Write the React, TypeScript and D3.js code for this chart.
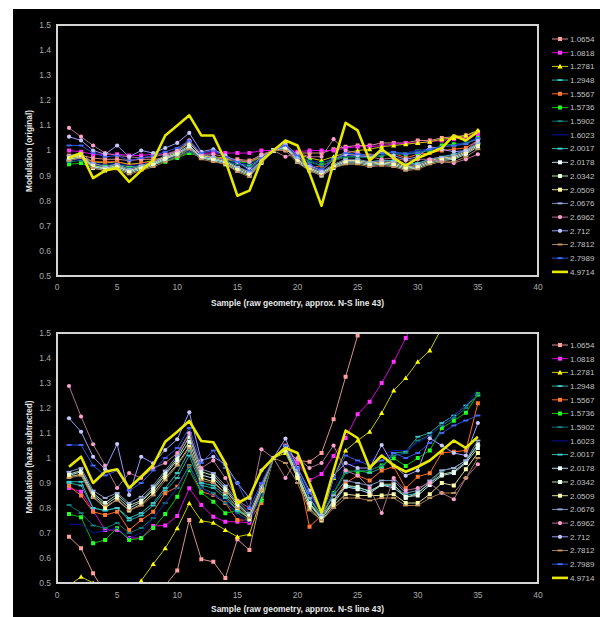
import React from 'react';
import * as d3 from 'd3';

const samples = [1,2,3,4,5,6,7,8,9,10,11,12,13,14,15,16,17,18,19,20,21,22,23,24,25,26,27,28,29,30,31,32,33,34,35];
const seriesLabels = ['1.0654','1.0818','1.2781','1.2948','1.5567','1.5736','1.5902','1.6023','2.0017','2.0178','2.0342','2.0509','2.0676','2.6962','2.712','2.7812','2.7989','4.9714'];
const xTicks = [0,5,10,15,20,25,30,35,40];
const yTicks = [0.5,0.6,0.7,0.8,0.9,1.0,1.1,1.2,1.3,1.4,1.5];
const yTickLabels = ['0.5','0.6','0.7','0.8','0.9','1','1.1','1.2','1.3','1.4','1.5'];

// ---- Top chart: Modulation (original)
const t_1_0654 = [0.975,0.98,0.97,0.965,0.965,0.96,0.965,0.965,0.97,0.98,0.99,0.975,0.97,0.965,0.965,0.96,0.98,1.0,1.0,0.99,0.99,0.99,1.005,1.015,1.02,1.02,1.03,1.03,1.03,1.04,1.04,1.05,1.055,1.06,1.075];
const t_1_0818 = [1.0,0.995,0.985,0.985,0.985,0.98,0.98,0.985,0.985,0.995,1.005,0.99,0.99,0.99,0.99,0.99,1.0,1.0,1.005,0.995,1.0,1.0,1.0,1.01,1.015,1.015,1.02,1.025,1.03,1.03,1.035,1.04,1.045,1.055,1.065];
const t_1_2781 = [0.965,0.975,0.955,0.95,0.955,0.945,0.95,0.96,0.97,0.985,1.0,0.98,0.975,0.97,0.96,0.955,0.975,1.0,1.005,0.985,0.97,0.96,0.975,0.99,1.0,1.005,1.015,1.02,1.025,1.03,1.035,1.045,1.05,1.06,1.08];
const t_1_2948 = [0.96,0.97,0.945,0.94,0.945,0.935,0.94,0.95,0.965,0.98,1.0,0.975,0.97,0.96,0.95,0.94,0.97,1.0,1.01,0.98,0.955,0.94,0.96,0.975,0.975,0.975,0.985,0.99,0.99,1.0,1.005,1.015,1.02,1.03,1.045];
const t_1_5567 = [0.98,0.975,0.955,0.955,0.955,0.94,0.95,0.955,0.97,0.975,0.995,0.97,0.97,0.965,0.955,0.955,0.97,1.0,1.01,0.98,0.93,0.94,0.96,0.98,0.985,0.98,0.99,0.99,0.97,0.985,0.99,1.0,1.005,1.01,1.04];
const t_1_5736 = [0.945,0.95,0.93,0.935,0.94,0.93,0.935,0.945,0.955,0.97,0.99,0.975,0.97,0.96,0.955,0.95,0.97,1.0,1.01,0.985,0.96,0.95,0.965,0.975,0.975,0.975,0.98,0.99,0.985,0.99,1.0,1.02,1.025,1.03,1.05];
const t_1_5902 = [0.955,0.96,0.94,0.935,0.94,0.93,0.935,0.945,0.96,0.975,0.995,0.97,0.965,0.955,0.945,0.935,0.965,1.0,1.01,0.98,0.955,0.94,0.96,0.975,0.975,0.97,0.98,0.985,0.985,0.995,1.0,1.015,1.02,1.03,1.045];
const t_1_6023 = [0.96,0.965,0.95,0.945,0.95,0.94,0.945,0.955,0.965,0.98,1.0,0.975,0.97,0.96,0.95,0.945,0.97,1.0,1.01,0.985,0.96,0.95,0.97,0.98,0.98,0.975,0.985,0.99,0.99,1.0,1.005,1.015,1.02,1.035,1.05];
const t_2_0017 = [0.965,0.97,0.935,0.93,0.935,0.92,0.93,0.945,0.965,0.985,1.01,0.97,0.965,0.955,0.935,0.915,0.96,1.0,1.015,0.965,0.93,0.91,0.94,0.96,0.96,0.955,0.96,0.96,0.945,0.95,0.965,0.975,0.985,1.0,1.025];
const t_2_0178 = [0.97,0.98,0.935,0.925,0.935,0.915,0.93,0.945,0.97,0.99,1.02,0.975,0.965,0.95,0.925,0.905,0.955,1.0,1.015,0.96,0.925,0.905,0.935,0.955,0.955,0.945,0.95,0.945,0.93,0.935,0.955,0.965,0.97,0.99,1.02];
const t_2_0342 = [0.965,0.975,0.93,0.92,0.93,0.91,0.925,0.94,0.965,0.985,1.015,0.97,0.96,0.945,0.92,0.9,0.95,1.0,1.01,0.955,0.92,0.9,0.93,0.95,0.95,0.94,0.945,0.94,0.925,0.93,0.95,0.96,0.965,0.985,1.015];
const t_2_0509 = [0.975,0.985,0.94,0.93,0.94,0.92,0.935,0.95,0.975,0.995,1.03,0.98,0.97,0.955,0.93,0.91,0.96,1.0,1.02,0.965,0.93,0.91,0.94,0.96,0.96,0.95,0.955,0.95,0.935,0.94,0.96,0.97,0.975,0.995,1.025];
const t_2_0676 = [0.98,0.99,0.95,0.935,0.945,0.925,0.94,0.955,0.98,1.0,1.035,0.985,0.975,0.96,0.935,0.915,0.96,1.0,1.02,0.97,0.935,0.915,0.945,0.965,0.965,0.955,0.96,0.955,0.94,0.945,0.965,0.975,0.98,1.0,1.03];
const t_2_6962 = [1.09,1.055,1.02,0.99,0.98,0.975,0.97,0.975,0.985,1.0,1.04,0.985,0.985,0.975,0.96,0.955,0.985,1.0,0.975,0.99,0.975,0.975,1.045,1.0,0.99,0.975,0.965,0.97,0.96,0.965,0.965,0.955,0.95,0.965,0.985];
const t_2_712 = [1.055,1.04,1.0,0.985,1.02,0.975,1.0,0.99,1.01,1.03,1.07,0.995,1.005,0.98,0.955,0.925,0.975,1.0,1.025,0.98,0.94,0.92,0.965,0.985,0.98,0.975,0.995,0.98,0.965,0.975,1.015,1.005,0.995,1.0,1.04];
const t_2_7812 = [0.96,0.97,0.93,0.92,0.925,0.905,0.92,0.935,0.955,0.975,1.005,0.965,0.955,0.945,0.915,0.895,0.95,1.0,1.0,0.95,0.92,0.9,0.93,0.945,0.945,0.935,0.94,0.935,0.92,0.925,0.945,0.955,0.955,0.975,1.005];
const t_2_7989 = [1.02,1.02,0.99,0.975,0.98,0.96,0.97,0.98,0.995,1.01,1.04,0.99,1.0,0.975,0.955,0.92,0.97,1.0,1.02,0.98,0.945,0.925,0.965,0.99,0.985,0.98,0.99,0.995,0.985,0.99,1.005,1.015,1.02,1.025,1.05];
const t_4_9714 = [0.97,0.99,0.89,0.92,0.93,0.875,0.92,0.96,1.06,1.10,1.14,1.06,1.06,0.96,0.82,0.84,0.96,1.0,1.04,1.02,0.91,0.78,0.95,1.11,1.08,0.96,1.005,0.97,0.94,0.97,0.99,1.01,1.06,1.04,1.075];

// ---- Bottom chart: Modulation (haze subtracted)
const b_1_0654 = [0.685,0.639,0.539,0.46,0.42,0.40,0.43,0.47,0.49,0.55,0.752,0.595,0.585,0.52,0.675,0.632,0.85,1.0,1.04,0.99,0.985,1.02,1.155,1.325,1.49,1.7,1.9,2.1,2.3,2.5,2.7,2.9,3.1,3.3,3.5];
const b_1_0818 = [0.88,0.865,0.79,0.712,0.712,0.68,0.68,0.728,0.73,0.768,0.879,0.812,0.765,0.745,0.745,0.741,0.86,1.0,1.04,0.98,0.912,0.936,1.008,1.08,1.175,1.225,1.30,1.385,1.48,1.58,1.68,1.78,1.88,1.98,2.08];
const b_1_2781 = [0.49,0.525,0.50,0.47,0.44,0.47,0.509,0.576,0.639,0.719,0.819,0.749,0.741,0.712,0.685,0.695,0.84,1.0,1.02,0.92,0.82,0.76,0.92,1.03,1.07,1.105,1.18,1.27,1.32,1.385,1.43,1.52,1.6,1.68,1.76];
const b_1_2948 = [0.90,0.89,0.80,0.79,0.80,0.75,0.77,0.81,0.87,0.92,1.01,0.89,0.88,0.84,0.79,0.76,0.86,1.0,1.04,0.94,0.84,0.77,0.86,0.94,0.95,0.94,0.96,1.02,1.025,1.085,1.10,1.14,1.17,1.21,1.25];
const b_1_5567 = [0.888,0.85,0.785,0.772,0.785,0.712,0.752,0.785,0.859,0.885,0.968,0.865,0.852,0.82,0.752,0.752,0.82,1.0,1.05,0.95,0.725,0.77,0.83,0.90,0.93,0.91,0.95,0.965,0.879,0.925,0.939,1.021,1.025,1.03,1.219];
const b_1_5736 = [0.776,0.763,0.659,0.672,0.719,0.672,0.679,0.72,0.776,0.845,0.952,0.861,0.825,0.779,0.79,0.772,0.83,1.0,1.03,0.92,0.83,0.77,0.86,0.95,0.945,0.95,0.97,0.999,0.968,1.0,1.03,1.12,1.149,1.181,1.255];
const b_1_5902 = [0.812,0.78,0.73,0.72,0.74,0.70,0.72,0.76,0.82,0.88,0.97,0.88,0.86,0.82,0.78,0.75,0.85,1.0,1.03,0.93,0.83,0.77,0.86,0.94,0.95,0.95,0.97,1.01,1.02,1.07,1.09,1.13,1.16,1.20,1.255];
const b_1_6023 = [0.735,0.735,0.70,0.71,0.72,0.68,0.70,0.76,0.82,0.88,0.96,0.88,0.85,0.83,0.77,0.74,0.85,1.0,1.04,0.95,0.85,0.78,0.88,0.97,0.98,0.99,1.01,1.03,1.03,1.06,1.09,1.13,1.17,1.21,1.275];
const b_2_0017 = [0.905,0.905,0.80,0.79,0.80,0.76,0.78,0.82,0.88,0.94,1.03,0.90,0.89,0.85,0.79,0.76,0.87,1.0,1.04,0.93,0.82,0.765,0.83,0.89,0.88,0.87,0.89,0.89,0.85,0.86,0.90,0.95,0.96,0.99,1.05];
const b_2_0178 = [0.93,0.945,0.852,0.812,0.845,0.799,0.825,0.872,0.932,0.992,1.065,0.932,0.919,0.872,0.812,0.765,0.88,1.0,1.04,0.93,0.82,0.759,0.819,0.885,0.875,0.859,0.892,0.88,0.845,0.85,0.892,0.93,0.94,0.98,1.04];
const b_2_0342 = [0.935,0.95,0.86,0.82,0.855,0.81,0.83,0.88,0.94,1.0,1.085,0.945,0.93,0.88,0.82,0.77,0.88,1.0,1.04,0.935,0.815,0.755,0.83,0.89,0.885,0.865,0.895,0.895,0.84,0.86,0.90,0.935,0.945,0.985,1.055];
const b_2_0509 = [0.925,0.935,0.845,0.80,0.835,0.79,0.815,0.86,0.92,0.975,1.045,0.92,0.905,0.86,0.80,0.755,0.87,1.0,1.03,0.92,0.80,0.75,0.81,0.855,0.85,0.85,0.85,0.855,0.82,0.82,0.855,0.90,0.89,0.955,1.02];
const b_2_0676 = [0.945,0.96,0.87,0.84,0.86,0.82,0.845,0.89,0.95,1.01,1.10,0.955,0.94,0.89,0.83,0.78,0.89,1.0,1.05,0.95,0.84,0.77,0.85,0.91,0.90,0.89,0.91,0.91,0.86,0.87,0.91,0.95,0.96,0.99,1.07];
const b_2_6962 = [1.288,1.166,1.055,0.97,0.88,0.94,0.92,0.96,0.98,1.02,1.10,0.96,0.99,0.92,0.83,0.80,1.035,1.0,0.92,1.0,0.96,0.98,1.05,0.95,0.93,0.88,0.78,0.92,0.87,0.88,0.90,0.86,0.835,0.92,0.975];
const b_2_712 = [1.159,1.105,1.005,0.955,1.056,0.852,1.005,0.979,1.032,1.075,1.183,0.99,1.005,0.975,0.90,0.84,0.95,1.0,1.078,0.96,0.87,0.78,0.93,0.98,0.96,0.96,1.052,0.97,0.929,0.95,1.079,1.05,1.02,1.01,1.14];
const b_2_7812 = [0.92,0.93,0.84,0.81,0.83,0.79,0.81,0.85,0.91,0.97,1.04,0.91,0.90,0.86,0.80,0.76,0.87,1.0,0.98,0.90,0.79,0.75,0.80,0.84,0.84,0.83,0.84,0.84,0.81,0.81,0.84,0.86,0.86,0.92,1.0];
const b_2_7989 = [1.052,1.052,0.97,0.93,0.95,0.87,0.90,0.95,1.0,1.04,1.12,0.98,1.03,0.96,0.90,0.80,0.90,1.0,1.05,0.96,0.86,0.78,0.92,1.01,0.99,0.97,0.99,1.02,1.0,1.02,1.06,1.10,1.13,1.15,1.17];
const b_4_9714 = [0.965,1.005,0.90,0.945,0.955,0.88,0.925,0.972,1.065,1.105,1.148,1.068,1.063,0.979,0.819,0.845,0.95,1.0,1.04,1.02,0.90,0.78,0.95,1.11,1.08,0.96,1.01,0.97,0.945,0.965,0.99,1.03,1.07,1.04,1.085];

const topValues = [t_1_0654,t_1_0818,t_1_2781,t_1_2948,t_1_5567,t_1_5736,t_1_5902,t_1_6023,t_2_0017,t_2_0178,t_2_0342,t_2_0509,t_2_0676,t_2_6962,t_2_712,t_2_7812,t_2_7989,t_4_9714];
const bottomValues = [b_1_0654,b_1_0818,b_1_2781,b_1_2948,b_1_5567,b_1_5736,b_1_5902,b_1_6023,b_2_0017,b_2_0178,b_2_0342,b_2_0509,b_2_0676,b_2_6962,b_2_712,b_2_7812,b_2_7989,b_4_9714];

// styles (per series)
const lineColors = ['#d9908c','#dd00dd','#c8c800','#2f9f9f','#ff6a1a','#00b800','#0a6e6e','#1010a0','#33b5b5','#b8dcec','#b4dcb4','#d8d890','#7f8fc0','#b07090','#9a9aff','#a07850','#2a4fd8','#e8e800'];
const markerColors = ['#ff9f9f','#ff33ff','#ffff00','#40c8c8','#ff7a33','#22ff22','#1a8080','#2020b0','#40d0d0','#f0ffff','#e4ffe4','#ffffa8','#a0b0e0','#ff9fcf','#c8c8ff','#c89a6a','#4a6aff','#e8e800'];
const markerShapes = ['square','square','triangle','dash','square','square','dash','none','dash','square','square','square','dash','circle','circle','dash','dash','none'];

const FONT = '"Liberation Sans", Arial, sans-serif';
const PLOT_L = 57, PLOT_R = 538;

function Marker({ shape, x, y, color }: { shape: string; x: number; y: number; color: string }) {
  if (shape === 'square') return <rect x={x - 2} y={y - 2} width={4} height={4} fill={color} />;
  if (shape === 'triangle') return <path d={`M${x},${y - 2.6}L${x + 2.6},${y + 2}L${x - 2.6},${y + 2}Z`} fill={color} />;
  if (shape === 'circle') return <circle cx={x} cy={y} r={2.1} fill={color} />;
  if (shape === 'dash') return <rect x={x - 2.5} y={y - 0.9} width={5} height={1.8} fill={color} />;
  return null;
}

function Panel({ values, plotTop, plotBottom, yTitle, yTitleLen, yTitleCenter, tickBaseline, titleBaseline, legendTop, id }: any) {
  const x = d3.scaleLinear().domain([0, 40]).range([PLOT_L, PLOT_R]);
  const y = d3.scaleLinear().domain([0.5, 1.5]).range([plotBottom, plotTop]);
  const line = d3.line<number>().x((_, i) => x(samples[i])).y((v) => y(v));
  return (
    <g>
      <defs>
        <clipPath id={id}>
          <rect x={PLOT_L} y={plotTop} width={PLOT_R - PLOT_L} height={plotBottom - plotTop} />
        </clipPath>
      </defs>
      {/* y ticks */}
      {yTicks.map((t, i) => (
        <text key={'yt' + i} x={51} y={y(t)} dy="0.35em" textAnchor="end" fontSize={8.5} fill="#a8a8a8" fontFamily={FONT}>
          {yTickLabels[i]}
        </text>
      ))}
      {xTicks.map((t) => (
        <text key={'xt' + t} x={x(t)} y={tickBaseline} textAnchor="middle" fontSize={8.5} fill="#a8a8a8" fontFamily={FONT}>
          {t}
        </text>
      ))}
      <text x={(PLOT_L + PLOT_R) / 2 - 0} y={titleBaseline} textAnchor="middle" fontSize={9} fontWeight="bold" fill="#e8e8e8" fontFamily={FONT} textLength={173} lengthAdjust="spacingAndGlyphs">
        Sample (raw geometry, approx. N-S line 43)
      </text>
      <text transform={`translate(32,${yTitleCenter}) rotate(-90)`} textAnchor="middle" fontSize={9} fontWeight="bold" fill="#e8e8e8" fontFamily={FONT} textLength={yTitleLen} lengthAdjust="spacingAndGlyphs">
        {yTitle}
      </text>
      <g clipPath={`url(#${id})`}>
        {values.map((vals: number[], si: number) => (
          <g key={'s' + si}>
            <path d={line(vals) || ''} fill="none" stroke={lineColors[si]} strokeWidth={si === 17 ? 2.6 : 1} strokeLinejoin="round" />
            {vals.map((v, i) => (
              <Marker key={i} shape={markerShapes[si]} x={x(samples[i])} y={y(v)} color={markerColors[si]} />
            ))}
          </g>
        ))}
      </g>
      <rect x={PLOT_L} y={plotTop} width={PLOT_R - PLOT_L} height={plotBottom - plotTop} fill="none" stroke="#d4d4d4" strokeWidth={2} />
      {/* legend */}
      {seriesLabels.map((lab, si) => {
        const ly = legendTop + si * 13.7;
        return (
          <g key={'lg' + si}>
            <line x1={552} x2={568} y1={ly} y2={ly} stroke={lineColors[si]} strokeWidth={si === 17 ? 2.6 : 1} />
            <Marker shape={markerShapes[si]} x={560} y={ly} color={markerColors[si]} />
            <text x={570} y={ly} dy="0.35em" fontSize={8} fill="#c0c0c0" fontFamily={FONT}>
              {lab}
            </text>
          </g>
        );
      })}
    </g>
  );
}

export default function App() {
  return (
    <svg width={600} height={617} style={{ position: 'absolute', left: 0, top: 0, display: 'block' }}>
      <rect x={0} y={0} width={600} height={617} fill="#ffffff" />
      <rect x={13} y={9} width={587} height={608} fill="#000000" />
      <Panel id="clipTop" values={topValues} plotTop={25} plotBottom={276} yTitle="Modulation (original)" yTitleLen={82} yTitleCenter={151} tickBaseline={290} titleBaseline={306} legendTop={39} />
      <Panel id="clipBottom" values={bottomValues} plotTop={333} plotBottom={583} yTitle="Modulation (haze subtracted)" yTitleLen={113} yTitleCenter={457} tickBaseline={598} titleBaseline={612} legendTop={345} />
    </svg>
  );
}
